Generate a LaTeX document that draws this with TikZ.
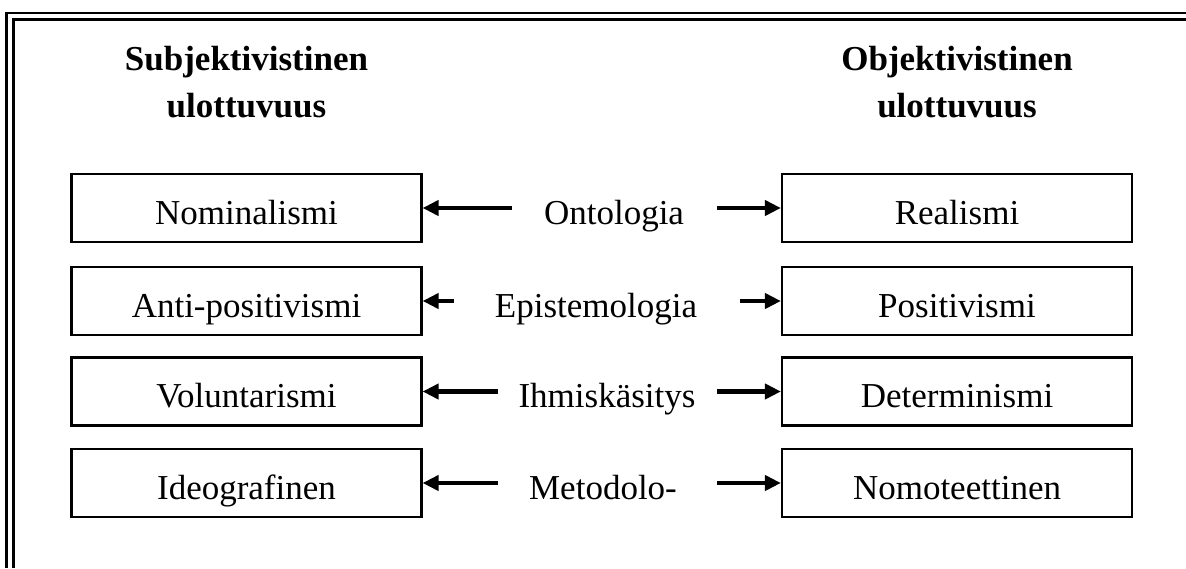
\documentclass[tikz,border=0pt]{standalone}
\usepackage{fontspec}
\setmainfont{Liberation Serif}
\usetikzlibrary{arrows.meta, positioning}
\tikzset{
  every picture/.style={line width=1pt},
  box/.style={draw=black, line width=1.1pt, minimum width=175pt, minimum height=34pt, inner sep=0pt},
  txt/.style={font=\fontsize{17.5}{20}\selectfont, anchor=base, inner sep=0pt},
  head/.style={font=\fontsize{17.5}{24}\selectfont\bfseries, align=center, anchor=base, inner sep=0pt},
  arrow/.style={-{Triangle[length=8pt, width=7.5pt]}, line width=2.3pt},
  frame/.style={line width=1.3pt},
}

\begin{document}
\begin{tikzpicture}[x=0.5pt, y=-0.5pt]
  \useasboundingbox (0,0) rectangle (1186,568);
  % double frame, open to the right and bottom
  \draw[frame] (6.5,568) -- (6.5,13) -- (1186,13);
  \draw[frame] (13.5,568) -- (13.5,19.5) -- (1186,19.5);
  % column headings
  \node[head] (hs) at (246.5,70) {Subjektivistinen};
  \node[head] (hs2) at (246.5,117) {ulottuvuus};
  \node[head] (ho) at (957,70) {Objektivistinen};
  \node[head] (ho2) at (957,117) {ulottuvuus};
  % rows
  \foreach \l/\m/\r/\y/\mx/\a/\b [count=\i] in {
      Nominalismi/Ontologia/Realismi/208/614/512/717,
      Anti-positivismi/Epistemologia/Positivismi/301/596/454/740,
      Voluntarismi/Ihmiskäsitys/Determinismi/391.5/607/498/717,
      Ideografinen/Metodolo-/Nomoteettinen/483/603/498/717} {
    \node[box] (l\i) at (246.5,\y) {};
    \node[box] (r\i) at (957,\y) {};
    \node[txt] (lt\i) at (246.5,\y+16) {\l};
    \node[txt] (rt\i) at (957,\y+16) {\r};
    \node[txt] (m\i) at (\mx,\y+16) {\m};
    \coordinate (ta\i) at (\a,\y);
    \coordinate (tb\i) at (\b,\y);
    \draw[arrow] (ta\i) -- (l\i.east);
    \draw[arrow] (tb\i) -- (r\i.west);
  }
\end{tikzpicture}
\end{document}
